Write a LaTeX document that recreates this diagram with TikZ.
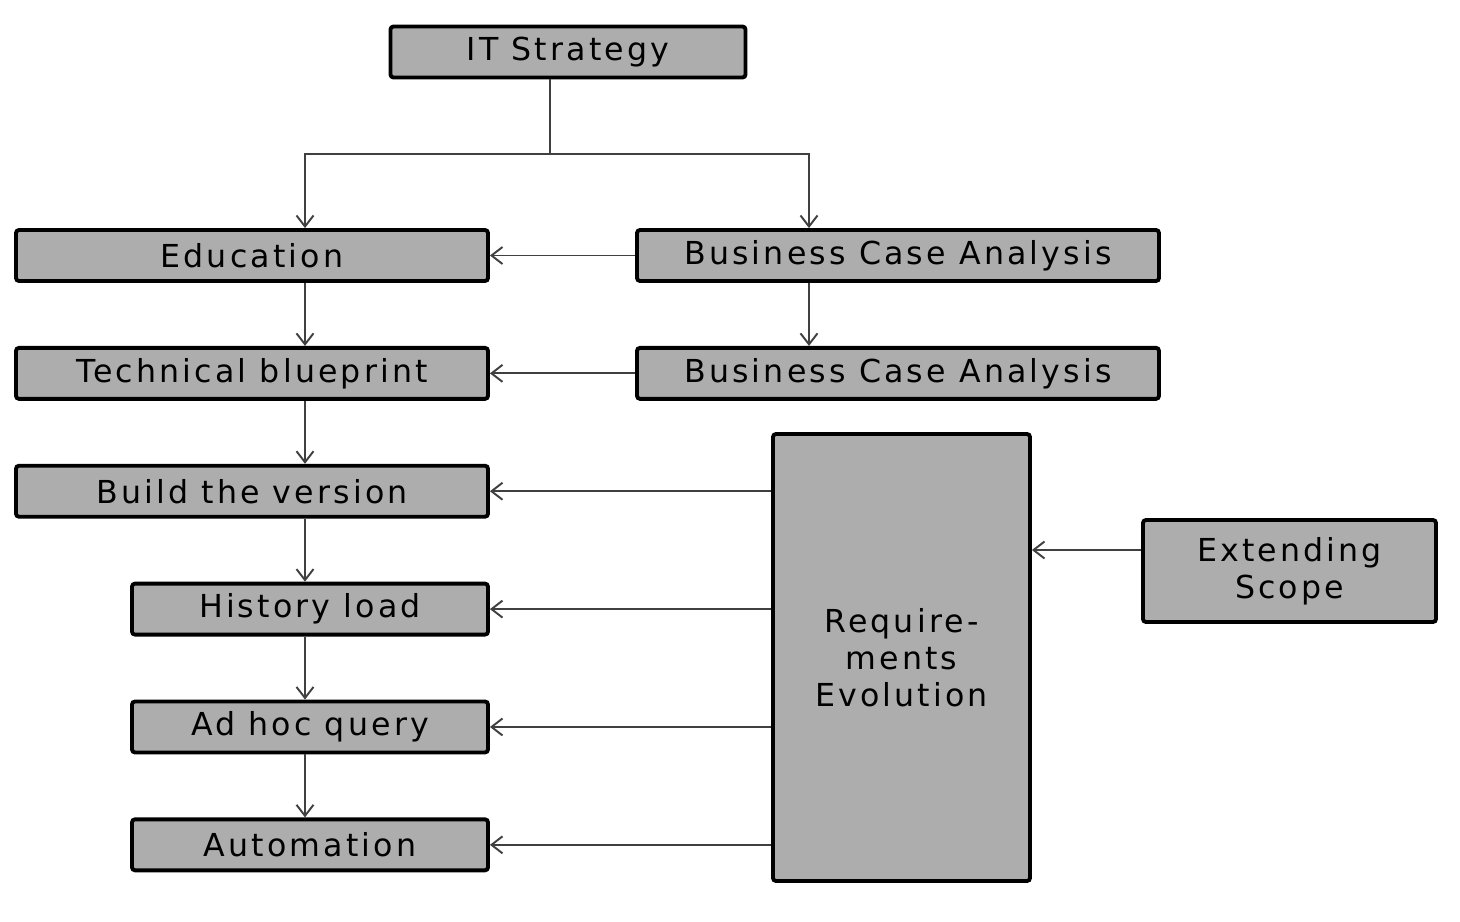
\documentclass[tikz,border=0pt]{standalone}
\usepackage{fontspec}
\setmainfont[LetterSpace=10]{DejaVu Sans}
\usetikzlibrary{arrows.meta,positioning,calc}

\begin{document}
\begin{tikzpicture}[
  node distance=1.26cm,
  stage/.style={draw=black,fill=black!32,rectangle,align=center,
    line width=2.2pt,rounded corners=0.6mm,inner sep=2pt,
    minimum width=9.44cm,minimum height=1.02cm,font=\fontsize{18}{21}\selectfont},
  arrow/.style={-{Straight Barb[length=2.2mm,width=3.4mm]},draw=black!75,line width=1.1pt}
]
  \useasboundingbox (0,0) rectangle (29.2,-18.44);
  \node[stage,minimum width=7.1cm] (its) at (11.36,-1.04) {IT Strategy};
  \node[stage] (edu) at (5.04,-5.11) {Education};
  \node[stage,below=of edu] (tech) {Technical blueprint};
  \node[stage,below=of tech] (build) {Build the version};
  \node[stage,minimum width=7.12cm,below=1.26cm of build.south east,anchor=north east] (hist) {History load};
  \node[stage,minimum width=7.12cm,below=of hist] (adhoc) {Ad hoc query};
  \node[stage,minimum width=7.12cm,below=of adhoc] (auto) {Automation};
  \node[stage,minimum width=10.44cm] (bca) at (17.96,-5.11) {Business Case Analysis};
  \node[stage,minimum width=10.44cm,below=of bca] (bcb) {Business Case Analysis};
  \node[stage,minimum width=5.14cm,minimum height=8.94cm] (req) at (18.03,-13.15)
    {Require-\\ments\\Evolution};
  \node[stage,minimum width=5.86cm,minimum height=2.04cm] (ext) at (25.79,-11.42)
    {Extending\\Scope};
  % split below IT Strategy
  \coordinate (split) at (11.0,-3.08);
  \coordinate (spine) at (6.1,0);
  \draw[draw=black!75,line width=1.1pt] (its.south -| split) -- (split);
  \draw[arrow] (split) -| (edu.north -| spine);
  \draw[arrow] (split) -| (16.18,0 |- bca.north);
  \draw[arrow] (bca.south -| 16.18,0) -- (bcb.north -| 16.18,0);
  % left column
  \draw[arrow] (edu.south -| spine) -- (tech.north -| spine);
  \draw[arrow] (tech.south -| spine) -- (build.north -| spine);
  \draw[arrow] (build.south -| spine) -- (hist.north -| spine);
  \draw[arrow] (hist.south -| spine) -- (adhoc.north -| spine);
  \draw[arrow] (adhoc.south -| spine) -- (auto.north -| spine);
  % feedback from the right
  \draw[arrow] (bca) -- (edu);
  \draw[arrow] (bcb) -- (tech);
  \draw[arrow] (req.west |- build.east) -- (build.east);
  \draw[arrow] (req.west |- hist.east) -- (hist.east);
  \draw[arrow] (req.west |- adhoc.east) -- (adhoc.east);
  \draw[arrow] (req.west |- auto.east) -- (auto.east);
  \draw[arrow] ([yshift=4.2mm]ext.west) -- ([yshift=4.2mm]ext.west -| req.east);
\end{tikzpicture}
\end{document}
